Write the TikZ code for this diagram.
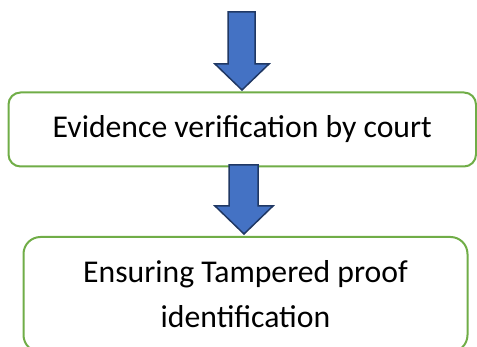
\documentclass[tikz,border=0pt]{standalone}
\usepackage{fontspec}
\setmainfont{Carlito}
\definecolor{boxgreen}{HTML}{70AD47}
\definecolor{arrowfill}{HTML}{4472C4}
\definecolor{arrowline}{HTML}{203864}
\begin{document}
\begin{tikzpicture}[x=1pt,y=1pt,
  stepbox/.style={draw=boxgreen, line width=2pt, fill=white, align=center, inner sep=0pt},
  blockarrow/.style={fill=arrowfill, draw=arrowline, line width=1.5pt, line join=miter}]
\useasboundingbox (0,0) rectangle (477,347);
% top arrow
\draw[blockarrow] (228,335) -- (255,335) -- (255,283) -- (269,283) -- (242,257) -- (215,283) -- (228,283) -- cycle;
% box 1
\node[stepbox, rounded corners=12pt, minimum width=467.5pt, minimum height=74pt, font=\fontsize{31.7}{38}\selectfont] (b1) at (242.25,217.5) {Evidence verification by court};
% second arrow
\draw[blockarrow] (229,182) -- (258,182) -- (258,141) -- (273,141) -- (244,113) -- (215,141) -- (229,141) -- cycle;
% box 2
\node[stepbox, rounded corners=17pt, minimum width=444pt, minimum height=115pt, font=\fontsize{31.7}{45}\selectfont] (b2) at (245.5,52.5) {Ensuring Tampered proof\\[0pt]identification};
\end{tikzpicture}
\end{document}
